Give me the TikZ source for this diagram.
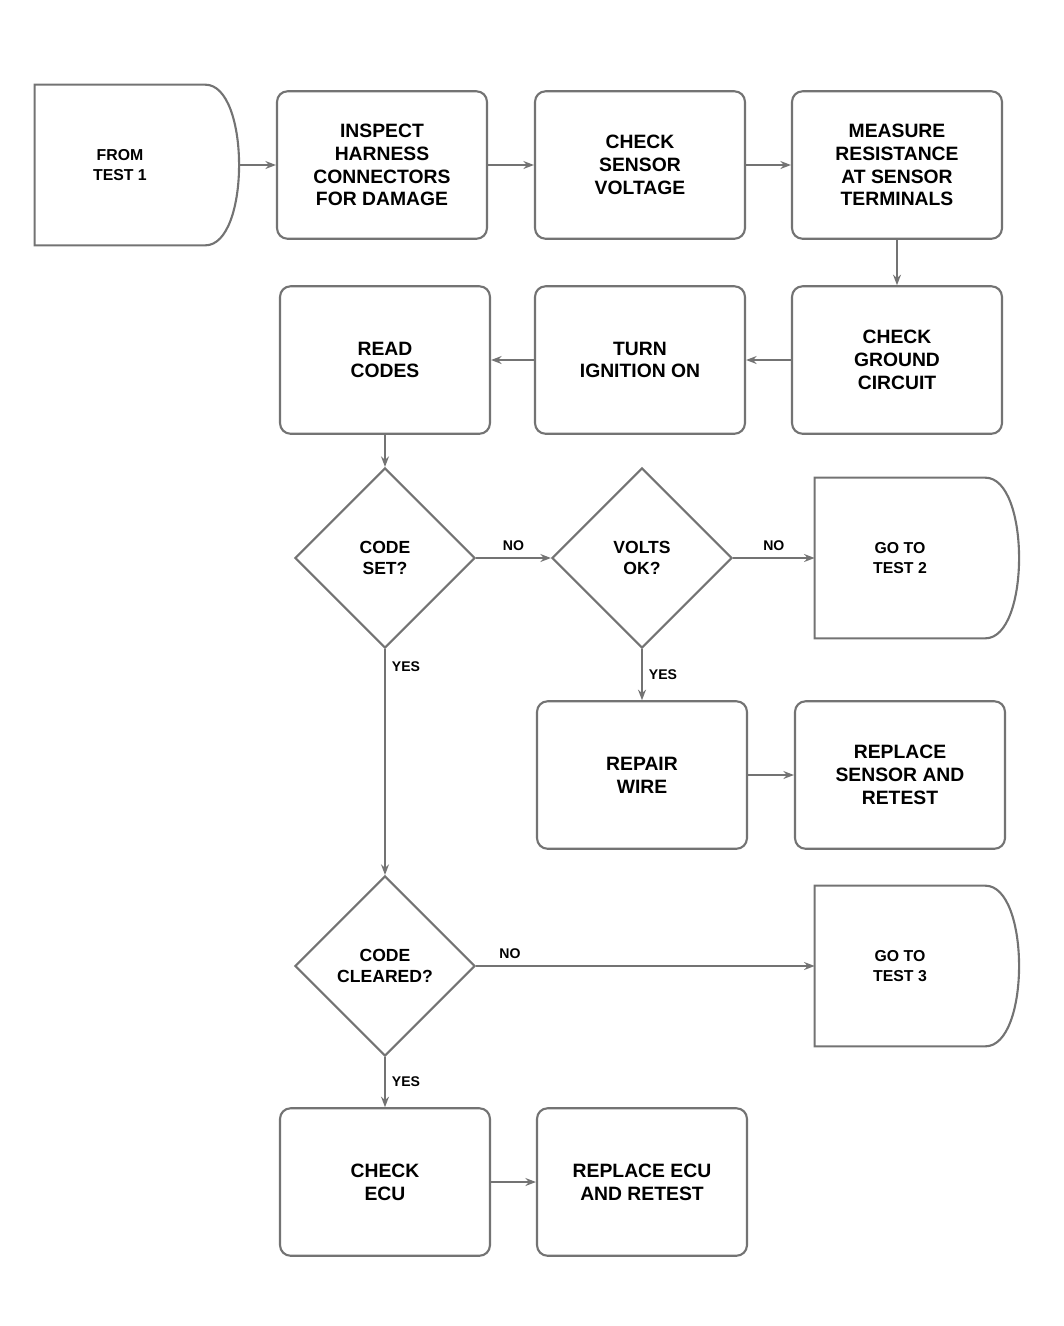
\documentclass[tikz,border=0pt]{standalone}
\usepackage{fontspec}
\setmainfont{Liberation Sans}
\usetikzlibrary{shapes.geometric,arrows.meta}
\begin{document}
\begin{tikzpicture}[x=0.02cm,y=-0.02cm,
	stepbox/.style={draw=black!55, line width=1.2pt, rounded corners=6pt, minimum width=4.2cm, minimum height=2.95cm, align=center, font=\fontsize{11}{13}\selectfont\bfseries},
	query/.style={draw=black!55, line width=1.2pt, diamond, minimum width=3.6cm, minimum height=3.6cm, inner sep=0pt, align=center, font=\fontsize{10}{12}\selectfont\bfseries},
	endbox/.style={minimum width=3.4cm, minimum height=3.2cm, align=center, font=\fontsize{9}{11}\selectfont\bfseries},
	link/.style={draw=black!55, line width=1.2pt, -{Stealth[length=6pt]}},
	answer/.style={font=\fontsize{8}{9}\selectfont\bfseries}]
		\useasboundingbox (0,0) rectangle (1064,1326);
		
		% Row 1
		\node[endbox] (start) at (120,165) {FROM\\TEST 1};
		\node[stepbox] (insp) at (382,165) {INSPECT\\HARNESS\\CONNECTORS\\FOR DAMAGE};
		\node[stepbox] (volt) at (640,165) {CHECK\\SENSOR\\VOLTAGE};
		\node[stepbox] (ohms) at (897,165) {MEASURE\\RESISTANCE\\AT SENSOR\\TERMINALS};
		
		% Row 2
		\node[stepbox] (gnd) at (897,360) {CHECK\\GROUND\\CIRCUIT};
		\node[stepbox] (ign) at (640,360) {TURN\\IGNITION ON};
		\node[stepbox] (read) at (385,360) {READ\\CODES};
		
		% Decisions
		\node[query] (set) at (385,558) {CODE\\SET?};
		\node[query] (ok) at (642,558) {VOLTS\\OK?};
		\node[endbox] (test2) at (900,558) {GO TO\\TEST 2};
		\node[stepbox] (wire) at (642,775) {REPAIR\\WIRE};
		\node[stepbox] (sens) at (900,775) {REPLACE\\SENSOR AND\\RETEST};
		\node[query] (clr) at (385,966) {CODE\\CLEARED?};
		\node[endbox] (test3) at (900,966) {GO TO\\TEST 3};
		\node[stepbox] (ecu) at (385,1182) {CHECK\\ECU};
		\node[stepbox] (repl) at (642,1182) {REPLACE ECU\\AND RETEST};
		
		% Terminal outlines
		\foreach \t in {start,test2,test3}
			\draw[draw=black!55, line width=1.2pt] (\t.north west) -- (\t.north east)
				.. controls ([xshift=0.9cm]\t.north east) and ([xshift=0.9cm]\t.south east) .. (\t.south east)
				-- (\t.south west) -- cycle;
		
		% Connectors
		\draw[link] ([xshift=0.675cm]start.east) -- (insp);
		\draw[link] (insp) -- (volt);
		\draw[link] (volt) -- (ohms);
		\draw[link] (ohms) -- (gnd);
		\draw[link] (gnd) -- (ign);
		\draw[link] (ign) -- (read);
		\draw[link] (read) -- (set);
		\draw[link] (set) -- node[answer, above] {NO} (ok);
		\draw[link] (ok) -- node[answer, above] {NO} (test2);
		\draw[link] (ok) -- node[answer, right] {YES} (wire);
		\draw[link] (wire) -- (sens);
		\draw[link] (set) -- node[answer, pos=0.08, right] {YES} (clr);
		\draw[link] (clr) -- node[answer, pos=0.1, above] {NO} (test3);
		\draw[link] (clr) -- node[answer, right] {YES} (ecu);
		\draw[link] (ecu) -- (repl);
	\end{tikzpicture}
\end{document}
